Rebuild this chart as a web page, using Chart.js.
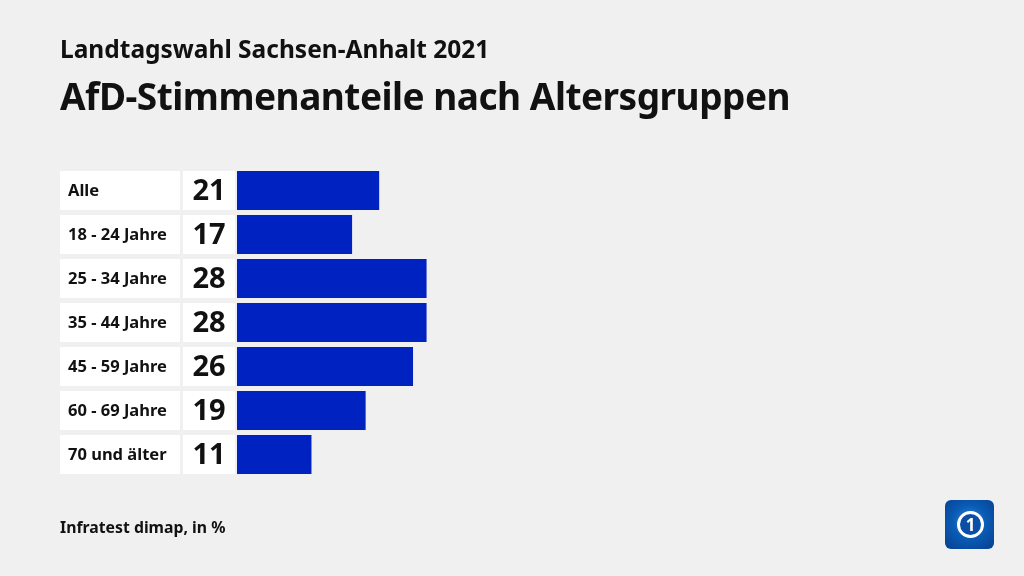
<!DOCTYPE html>
<html><head><meta charset="utf-8">
<script src="https://cdn.jsdelivr.net/npm/chart.js@4"></script>
<style>
html,body{margin:0;padding:0;background:#f0f0f0;width:1024px;height:576px;overflow:hidden;font-family:"Noto Sans",sans-serif;}
#wrap{position:absolute;left:0;top:0;width:1024px;height:576px;}
.t{position:absolute;left:60px;font-weight:bold;color:#111;white-space:nowrap;}
#sub{top:32px;font-size:24.5px;line-height:34px;}
#title{top:72px;font-size:37px;line-height:48px;letter-spacing:-0.5px;}
#src{top:516px;font-size:15.8px;line-height:22px;}
#logo{position:absolute;left:945px;top:500px;width:49px;height:49px;border-radius:6px;background:radial-gradient(circle at 50% 45%,#3a8ee0 0%,#0a5bb5 45%,#063f8f 100%);}
#logo .ring{position:absolute;left:12px;top:11px;width:21px;height:21px;border-radius:50%;border:3px solid #fff;background:#0a4fa5;color:#fff;font-weight:bold;font-size:17px;line-height:21px;text-align:center;}
</style></head>
<body><div id="wrap">
<canvas id="c" width="1024" height="576"></canvas>
<div class="t" id="sub">Landtagswahl Sachsen-Anhalt 2021</div>
<div class="t" id="title">AfD-Stimmenanteile nach Altersgruppen</div>
<div class="t" id="src">Infratest dimap, in %</div>
<div id="logo"><div class="ring">1</div></div>
</div>
<script>
const categories = ["Alle","18 - 24 Jahre","25 - 34 Jahre","35 - 44 Jahre","45 - 59 Jahre","60 - 69 Jahre","70 und älter"];
const values = [21,17,28,28,26,19,11];
const barColor = "#0022c0";

const boxes = {
  id:'boxes',
  afterDatasetsDraw(chart){
    const ctx = chart.ctx;
    const meta = chart.getDatasetMeta(0);
    meta.data.forEach((bar,i)=>{
      const top = bar.y - bar.height/2, h = bar.height;
      ctx.save();
      ctx.fillStyle = '#ffffff';
      ctx.fillRect(60, top, 120, h);
      ctx.fillRect(183, top, 52, h);
      ctx.fillStyle = '#111';
      ctx.textBaseline = 'middle';
      ctx.font = 'bold 16.5px "Noto Sans"';
      ctx.textAlign = 'left';
      ctx.fillText(categories[i], 68, bar.y+1);
      ctx.font = 'bold 29px "Noto Sans"';
      ctx.textAlign = 'center';
      ctx.fillText(String(values[i]), 209, bar.y+1);
      ctx.restore();
    });
  }
};

new Chart(document.getElementById('c'), {
  type:'bar',
  data:{labels:categories,datasets:[{data:values,backgroundColor:barColor,borderWidth:0,barPercentage:39/44,categoryPercentage:1}]},
  options:{
    indexAxis:'y',responsive:false,animation:false,
    layout:{padding:{left:237,right:110,top:168.5,bottom:99.5}},
    plugins:{legend:{display:false},tooltip:{enabled:false}},
    scales:{
      x:{display:false,min:0,max:100},
      y:{display:false}
    }
  },
  plugins:[boxes]
});
</script>
</body></html>
